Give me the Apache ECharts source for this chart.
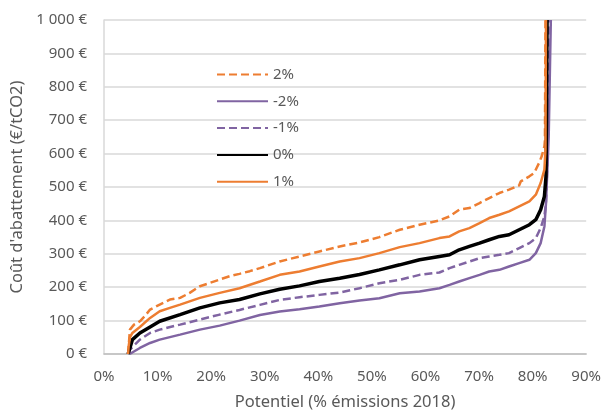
<!DOCTYPE html>
<html><head><meta charset="utf-8">
<script src="https://cdn.jsdelivr.net/npm/echarts@6/dist/echarts.min.js"></script>
<style>html,body{margin:0;padding:0;background:#fff}#c{width:604px;height:416px}</style>
</head><body><div id="c"></div>
<script>
// Data (x = % of 2018 emissions, y = €/tCO2)
const names = ['2%', '-2%', '-1%', '0%', '1%'];

const xP2 = [4.5, 4.84, 5.6, 6.7, 7.6, 8.6, 10.4, 12.3, 14.2, 16.0, 17.9, 19.8, 21.6, 23.5, 25.3, 27.2, 29.1, 32.8, 36.5, 40.2, 44.0, 47.7, 51.4, 55.2, 58.9, 62.6, 64.5, 66.3, 68.2, 70.1, 71.9, 73.8, 75.6, 77.5, 77.8, 79.4, 80.3, 81.2, 81.7, 82.2, 82.3, 82.4];
const yP2 = [0, 73, 88, 98, 113, 133, 148, 163, 168, 183, 203, 213, 223, 233, 240, 248, 257, 277, 292, 307, 322, 334, 350, 372, 387, 400, 412, 432, 437, 452, 467, 482, 492, 505, 517, 532, 542, 572, 592, 622, 640, 1000];

const xM2 = [4.8, 6.7, 8.6, 10.4, 14.2, 17.9, 21.6, 25.3, 29.1, 32.8, 36.5, 40.2, 44.0, 47.7, 51.4, 55.2, 58.9, 62.6, 64.5, 66.3, 68.2, 70.1, 71.9, 73.8, 75.6, 77.5, 79.4, 80.6, 81.5, 82.2, 82.5, 83.0, 83.4];
const yM2 = [0, 18, 33, 43, 58, 73, 85, 100, 117, 127, 134, 142, 152, 160, 167, 182, 187, 197, 207, 217, 227, 237, 247, 252, 262, 272, 282, 302, 332, 382, 452, 650, 1000];

const xM1 = [4.5, 4.84, 6.7, 8.6, 10.4, 14.2, 17.9, 21.6, 25.3, 29.1, 32.8, 36.5, 40.2, 44.0, 47.7, 51.4, 55.2, 58.9, 62.6, 64.5, 66.3, 68.2, 70.1, 71.9, 73.8, 75.6, 77.5, 79.4, 80.6, 81.5, 82.2, 82.5, 82.8, 83.0];
const yM1 = [0, 13, 43, 63, 73, 88, 103, 118, 132, 147, 162, 170, 177, 184, 197, 212, 222, 237, 244, 257, 267, 277, 287, 292, 297, 302, 317, 332, 347, 377, 412, 452, 600, 1000];

const x0 = [4.5, 5.3, 6.7, 8.6, 10.4, 14.2, 17.9, 21.6, 25.3, 29.1, 32.8, 36.5, 40.2, 44.0, 47.7, 51.4, 55.2, 58.9, 62.6, 64.5, 66.3, 68.2, 70.1, 71.9, 73.8, 75.6, 77.5, 79.4, 80.6, 81.5, 82.2, 82.5, 82.6, 82.7];
const y0 = [0, 43, 63, 81, 98, 118, 138, 153, 163, 180, 194, 204, 217, 227, 238, 252, 267, 282, 292, 297, 312, 322, 332, 342, 352, 357, 372, 387, 402, 432, 472, 532, 700, 1000];

const xP1 = [4.5, 4.6, 4.84, 5.3, 6.7, 8.6, 10.4, 12.3, 14.2, 17.9, 21.6, 25.3, 29.1, 32.8, 36.5, 40.2, 44.0, 47.7, 51.4, 55.2, 58.9, 62.6, 64.5, 66.3, 68.2, 70.1, 71.9, 73.8, 75.6, 77.5, 79.4, 80.6, 81.5, 82.2, 82.4, 82.5];
const yP1 = [0, 23, 50, 63, 81, 108, 128, 138, 148, 168, 183, 197, 217, 237, 247, 262, 277, 287, 302, 320, 332, 347, 352, 367, 377, 392, 407, 417, 427, 442, 457, 477, 512, 552, 612, 1000];

const xTicks = [0, 10, 20, 30, 40, 50, 60, 70, 80, 90];
const yTicks = [0, 100, 200, 300, 400, 500, 600, 700, 800, 900, 1000];

const ORANGE = '#ED7D31', PURPLE = '#8064A2', BLACK = '#000000';
const zip = (xs, ys) => xs.map((x, i) => [x, ys[i]]);
const fmtEur = v => String(v).replace(/\B(?=(\d{3})+(?!\d))/g, ' ') + ' €';
const txt = '#595959';
const FONT = 'Noto Sans';

const mk = (name, xs, ys, color, type, width) => ({
  name, type: 'line', data: zip(xs, ys), symbol: 'none', smooth: false,
  lineStyle: { color, type, width }, itemStyle: { color },
  emphasis: { disabled: true }, animation: false
});

const chart = echarts.init(document.getElementById('c'), null, { renderer: 'canvas' });
chart.setOption({
  animation: false,
  textStyle: { fontFamily: FONT },
  grid: { left: 104, right: 17, top: 20, bottom: 61, containLabel: false },
  legend: {
    data: names, orient: 'vertical', left: 211, top: 62, itemWidth: 51, itemHeight: 14, itemGap: 11.8,
    itemStyle: { opacity: 0 },
    textStyle: { color: txt, fontSize: 15, lineHeight: 14, fontFamily: FONT }, selectedMode: false
  },
  xAxis: {
    type: 'value', min: xTicks[0], max: xTicks[xTicks.length - 1], interval: 10,
    axisLabel: { formatter: '{value}%', color: txt, fontSize: 15, margin: 15, fontFamily: FONT },
    axisLine: { show: true, lineStyle: { color: '#bfbfbf', width: 1.5 } },
    axisTick: { show: false }, splitLine: { show: false },
    name: 'Potentiel (% émissions 2018)', nameLocation: 'middle', nameGap: 40,
    nameTextStyle: { color: txt, fontSize: 16.5, fontFamily: FONT }
  },
  yAxis: {
    type: 'value', min: yTicks[0], max: yTicks[yTicks.length - 1], interval: 100,
    axisLabel: { formatter: fmtEur, color: txt, fontSize: 15, margin: 17, fontFamily: FONT },
    axisLine: { show: true, lineStyle: { color: '#d9d9d9', width: 1.5 } },
    axisTick: { show: false },
    splitLine: { show: true, lineStyle: { color: '#d9d9d9', width: 1.5 } },
    name: "Coût d'abattement (€/tCO2)", nameLocation: 'middle', nameGap: 75,
    nameTextStyle: { color: txt, fontSize: 16.5, fontFamily: FONT }
  },
  series: [
    mk('2%', xP2, yP2, ORANGE, [8, 4], 2.5),
    mk('-2%', xM2, yM2, PURPLE, 'solid', 2.5),
    mk('-1%', xM1, yM1, PURPLE, [8, 4], 2.5),
    mk('0%', x0, y0, BLACK, 'solid', 3.5),
    mk('1%', xP1, yP1, ORANGE, 'solid', 2.5)
  ]
});
</script></body></html>
